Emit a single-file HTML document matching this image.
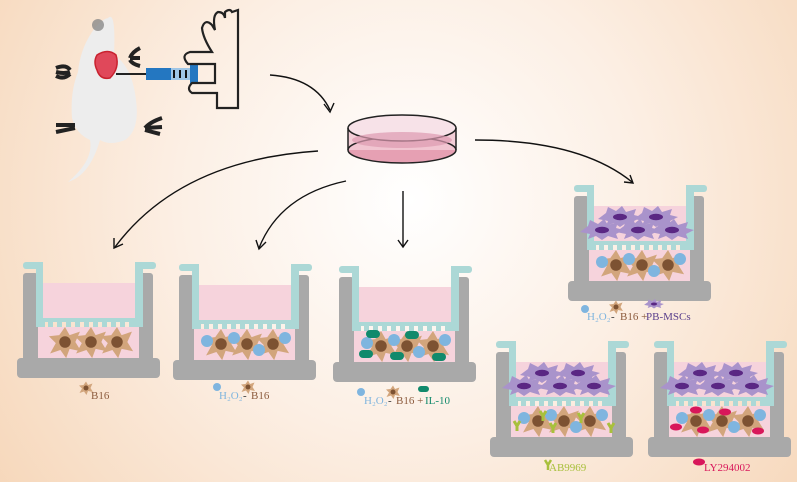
<!DOCTYPE html>
<html><head><meta charset="utf-8"><style>
html,body{margin:0;padding:0;width:797px;height:482px;overflow:hidden}
svg{display:block}
text{font-family:"Liberation Serif",serif;font-size:11px}
</style></head><body>
<svg width="797" height="482" viewBox="0 0 797 482" xmlns="http://www.w3.org/2000/svg">
<defs>
<radialGradient id="bg" cx="410" cy="200" r="520" gradientUnits="userSpaceOnUse">
<stop offset="0" stop-color="#ffffff"/><stop offset="0.45" stop-color="#fcefe4"/><stop offset="1" stop-color="#f6d6b8"/>
</radialGradient>
<g id="well">
<rect x="6" y="11" width="15" height="90" rx="3" fill="#a9a9a9"/>
<rect x="122" y="11" width="14" height="90" rx="3" fill="#a9a9a9"/>
<rect x="0" y="96" width="143" height="20" rx="4" fill="#a9a9a9"/>
<rect x="21" y="65" width="101" height="31" fill="#f6d3dc"/>
<rect x="26" y="21" width="92" height="35" fill="#f6d3dc"/>
<rect x="6" y="0" width="20" height="7" rx="3" fill="#acd8d6"/>
<rect x="19" y="0" width="7" height="60" fill="#acd8d6"/>
<rect x="118" y="0" width="8" height="60" fill="#acd8d6"/>
<rect x="118" y="0" width="21" height="7" rx="3" fill="#acd8d6"/>
<rect x="19" y="56" width="107" height="4" fill="#acd8d6"/>
<g fill="#acd8d6">
<rect x="19" y="60" width="9" height="5"/><rect x="31" y="60" width="5" height="5"/><rect x="40" y="60" width="5" height="5"/><rect x="49" y="60" width="5" height="5"/><rect x="58" y="60" width="5" height="5"/><rect x="67" y="60" width="5" height="5"/><rect x="76" y="60" width="5" height="5"/><rect x="85" y="60" width="5" height="5"/><rect x="94" y="60" width="5" height="5"/><rect x="103" y="60" width="5" height="5"/><rect x="112" y="60" width="14" height="5"/>
</g>
</g>
<g id="b16">
<polygon points="0,-13 4,-6 13,-9 9,0 14,8 4,6 1,14 -4,7 -13,10 -8,1 -14,-5 -5,-6" fill="#d2a57c"/>
<circle r="5" fill="#7d5232"/>
</g>
<g id="msc">
<polygon points="-22,2 -14,-4 -12,-10 -4,-6 2,-11 6,-5 16,-8 14,-2 22,0 14,4 16,9 6,6 0,10 -6,6 -14,9 -12,4" fill="#a993cb"/>
<ellipse rx="7" ry="3.2" fill="#5a2783"/>
</g>
<g id="cells3"><use href="#b16" transform="translate(48,80) scale(1.15)"/><use href="#b16" transform="translate(74,80) scale(1.15)"/><use href="#b16" transform="translate(100,80) scale(1.15)"/></g>
<g id="blue"><circle cx="34" cy="77" r="6" fill="#7fb5df"/><circle cx="61" cy="74" r="6" fill="#7fb5df"/><circle cx="86" cy="86" r="6" fill="#7fb5df"/><circle cx="112" cy="74" r="6" fill="#7fb5df"/></g>
<g id="mscs"><use href="#msc" x="52" y="32"/><use href="#msc" x="88" y="32"/><use href="#msc" x="34" y="45"/><use href="#msc" x="70" y="45"/><use href="#msc" x="104" y="45"/></g>
</defs>
<rect width="797" height="482" fill="url(#bg)"/>

<!-- mouse -->
<path d="M108,18 Q116,10 114,55 Q132,66 136,100 Q140,130 125,140 Q110,146 100,140 Q90,175 68,182 Q94,160 90,140 Q76,134 72,118 Q70,92 78,72 Q80,50 92,32 Q100,20 108,18Z" fill="#ededed"/>
<circle cx="98" cy="25" r="6" fill="#8a8a8a" opacity="0.8"/>
<path d="M56,68 Q66,64 70,70 M56,72 Q64,74 70,72 M56,76 Q64,80 70,74" stroke="#222" stroke-width="4" fill="none"/>
<path d="M140,48 Q132,52 130,58 M140,58 L130,58 M140,66 Q132,64 130,60" stroke="#222" stroke-width="4" fill="none"/>
<path d="M56,125 L75,125 M56,132 L75,128" stroke="#222" stroke-width="4" fill="none"/>
<path d="M162,118 Q150,122 145,128 M162,127 L145,128 M160,134 Q152,132 145,130" stroke="#222" stroke-width="4" fill="none"/>
<path d="M97,55 Q108,48 116,55 Q120,68 110,78 Q100,80 97,70 Q93,62 97,55Z" fill="#e0485a" stroke="#c9222f" stroke-width="1.5"/>
<line x1="116" y1="74" x2="146" y2="74" stroke="#222" stroke-width="2"/>
<rect x="146" y="68" width="50" height="12" fill="#9fc6e6"/>
<rect x="146" y="68" width="25" height="12" fill="#2477c1"/>
<rect x="190" y="64" width="8" height="20" fill="#2477c1"/>
<g stroke="#111" stroke-width="2"><line x1="174" y1="70" x2="174" y2="78"/><line x1="180" y1="70" x2="180" y2="78"/><line x1="186" y1="70" x2="186" y2="78"/></g>
<path d="M238,10 L238,108 L217,108 L217,93 L192,93 Q186,89 192,83 L215,83 L215,64 L188,64 Q180,55 190,52 L212,52 Q203,38 202,28 Q205,18 212,25 L215,30 Q212,15 218,12 Q224,12 225,18 L225,12 Q230,8 232,12 Z" fill="none" stroke="#222" stroke-width="2.2"/>

<!-- petri dish -->
<ellipse cx="402" cy="150" rx="54" ry="13" fill="#e6a0b3"/>
<rect x="348" y="128" width="108" height="22" fill="#f2c9d4" opacity="0.9"/>
<ellipse cx="402" cy="150" rx="54" ry="13" fill="none" stroke="#222" stroke-width="1.5"/>
<ellipse cx="402" cy="128" rx="54" ry="13" fill="#f7e2e8" stroke="#222" stroke-width="1.5"/>
<line x1="348" y1="128" x2="348" y2="150" stroke="#222" stroke-width="1.5"/>
<line x1="456" y1="128" x2="456" y2="150" stroke="#222" stroke-width="1.5"/>
<ellipse cx="402" cy="140" rx="50" ry="8" fill="#dd9ab0" opacity="0.7"/>

<!-- arrows -->
<g fill="none" stroke="#111" stroke-width="1.4">
<path d="M270,75 Q315,78 330,110"/><path d="M324,104 L330,112 L334,103"/>
<path d="M318,151 Q180,160 115,247"/><path d="M114,238 L114,248 L123,244"/>
<path d="M346,181 Q280,195 259,248"/><path d="M256,240 L259,249 L266,242"/>
<line x1="403" y1="191" x2="403" y2="246"/><path d="M398,240 L403,247 L408,240"/>
<path d="M475,140 Q580,140 632,182"/><path d="M624,182 L633,183 L630,175"/>
</g>

<!-- wells -->
<g transform="translate(17,262)"><use href="#well"/><use href="#cells3"/></g>
<g transform="translate(173,264)"><use href="#well"/><use href="#cells3"/><use href="#blue"/></g>
<g transform="translate(333,266)"><use href="#well"/><use href="#cells3"/><use href="#blue"/>
<g fill="#118a6c"><rect x="33" y="64" width="14" height="8" rx="4"/><rect x="72" y="65" width="14" height="8" rx="4"/><rect x="26" y="84" width="14" height="8" rx="4"/><rect x="57" y="86" width="14" height="8" rx="4"/><rect x="99" y="87" width="14" height="8" rx="4"/></g></g>
<g transform="translate(568,185)"><use href="#well"/><use href="#mscs"/><use href="#cells3"/><use href="#blue"/></g>
<g transform="translate(490,341)"><use href="#well"/><use href="#mscs"/><use href="#cells3"/><use href="#blue"/>
<g stroke="#a8c03c" stroke-width="3" fill="none"><path d="M50,70 l3,5 l3,-5 M53,75 v5"/><path d="M24,80 l3,5 l3,-5 M27,85 v5"/><path d="M60,82 l3,5 l3,-5 M63,87 v5"/><path d="M88,72 l3,5 l3,-5 M91,77 v5"/><path d="M118,82 l3,5 l3,-5 M121,87 v5"/></g></g>
<g transform="translate(648,341)"><use href="#well"/><use href="#mscs"/><use href="#cells3"/><use href="#blue"/>
<g fill="#d8175a"><ellipse cx="48" cy="69" rx="6" ry="3.5"/><ellipse cx="77" cy="71" rx="6" ry="3.5"/><ellipse cx="28" cy="86" rx="6" ry="3.5"/><ellipse cx="55" cy="89" rx="6" ry="3.5"/><ellipse cx="110" cy="90" rx="6" ry="3.5"/></g></g>

<!-- labels -->
<use href="#b16" transform="translate(86,388) scale(0.5)"/>
<text x="91" y="399" fill="#8b5a3c">B16</text>
<circle cx="217" cy="387" r="4" fill="#7fb5df"/>
<text x="219" y="399" fill="#7fb5df" font-size="10">H₂O₂</text><text x="243" y="399" fill="#333" font-size="10">-</text>
<use href="#b16" transform="translate(248,387) scale(0.5)"/><text x="251" y="399" fill="#8b5a3c">B16</text>
<circle cx="361" cy="392" r="4" fill="#7fb5df"/>
<text x="364" y="404" fill="#7fb5df" font-size="11">H₂O₂</text><text x="388" y="404" fill="#333" font-size="11">-</text>
<use href="#b16" transform="translate(393,392) scale(0.5)"/><text x="396" y="404" fill="#8b5a3c">B16 + </text>
<rect x="418" y="386" width="11" height="6" rx="3" fill="#118a6c"/><text x="425" y="404" fill="#118a6c">IL-10</text>
<circle cx="585" cy="309" r="4" fill="#7fb5df"/>
<text x="587" y="320" fill="#7fb5df" font-size="11">H₂O₂</text><text x="611" y="320" fill="#333" font-size="11">-</text>
<use href="#b16" transform="translate(616,307) scale(0.5)"/><text x="620" y="320" fill="#8b5a3c">B16 +</text>
<use href="#msc" transform="translate(654,304) scale(0.45)"/><text x="646" y="320" fill="#5a3f8c">PB-MSCs</text>
<path d="M545,460 l3,5 l3,-5 M548,465 v5" stroke="#a8c03c" stroke-width="2.5" fill="none"/>
<text x="549" y="471" fill="#a8c03c">AB9969</text>
<ellipse cx="699" cy="462" rx="6" ry="3.5" fill="#d8175a"/>
<text x="704" y="471" fill="#d8175a">LY294002</text>
</svg>
</body></html>
